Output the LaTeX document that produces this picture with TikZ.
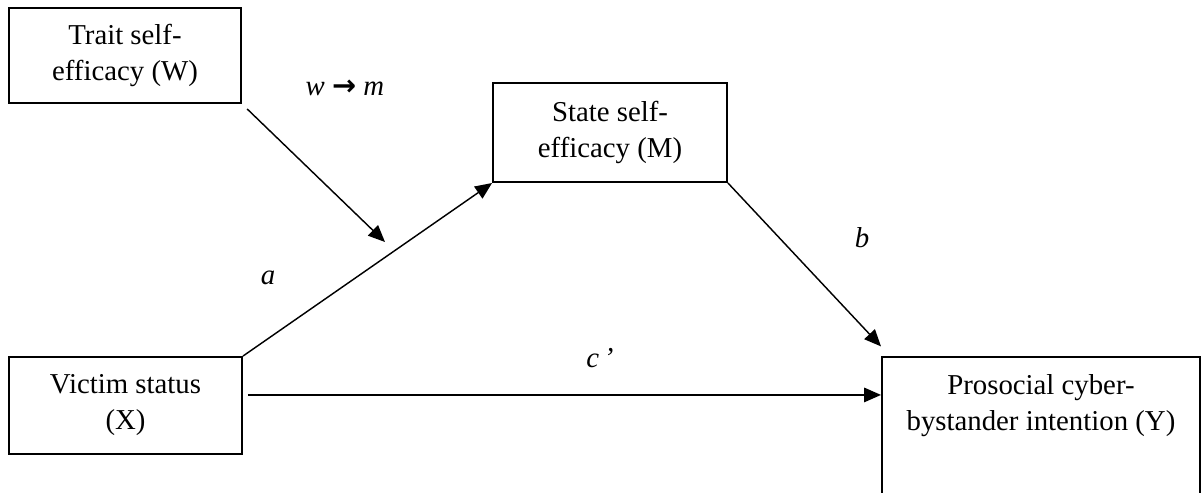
\documentclass[tikz,border=0pt]{standalone}
\usepackage{fontspec}
\setmainfont{Liberation Serif}
\newfontfamily\arrowfont{DejaVu Sans}
\usetikzlibrary{arrows.meta,positioning,calc}
\definecolor{ink}{HTML}{000000}
\tikzset{
  every node/.style={font=\fontsize{12}{15}\selectfont},
  box/.style={draw=ink, line width=0.8pt, fill=white, align=center, inner sep=0pt},
  arrow/.style={-{Triangle[length=7pt,width=6pt]}, line width=0.6pt, draw=ink},
  pathlabel/.style={font=\fontsize{12}{15}\selectfont\itshape, text=ink},
}

\begin{document}
\begin{tikzpicture}[x=0.4167pt,y=-0.4167pt]
\useasboundingbox (0,0) rectangle (1202,492);
\clip (0,0) rectangle (1202,492);
\node[box, minimum width=96.7pt, minimum height=39.6pt] (W) at (125,55.5) {Trait self-\\efficacy (W)};
\node[box, minimum width=97.5pt, minimum height=41.3pt] (M) at (610,132.5) {State self-\\efficacy (M)};
\node[box, minimum width=97.1pt, minimum height=40.4pt] (X) at (125.5,405.5) {Victim status\\(X)};
\node[box, anchor=north west, minimum width=132.5pt, minimum height=90pt,
  label={[anchor=north, align=center, yshift=-4pt]north:{Prosocial cyber-\\bystander intention (Y)}}] (Y) at (881,356) {};
\coordinate (mod) at (385,242);
\draw[arrow, shorten <=3pt] (W.south east) -- (mod);
\draw[arrow] (X.north east) -- (M.south west);
\draw[arrow] (M.south east) -- ([yshift=4pt]Y.north west);
\draw[arrow] ([xshift=2pt,yshift=4.4pt]X.east) -- ([yshift=4.4pt]X.east -| Y.west);
\node[pathlabel] (wm) at (345,88) {w {\arrowfont\upshape\bfseries →} m};
\node[pathlabel] (a) at (268,278) {a};
\node[pathlabel] (b) at (862,238) {b};
\node[pathlabel] (c) at (600,358) {c\,’};
\end{tikzpicture}
\end{document}
